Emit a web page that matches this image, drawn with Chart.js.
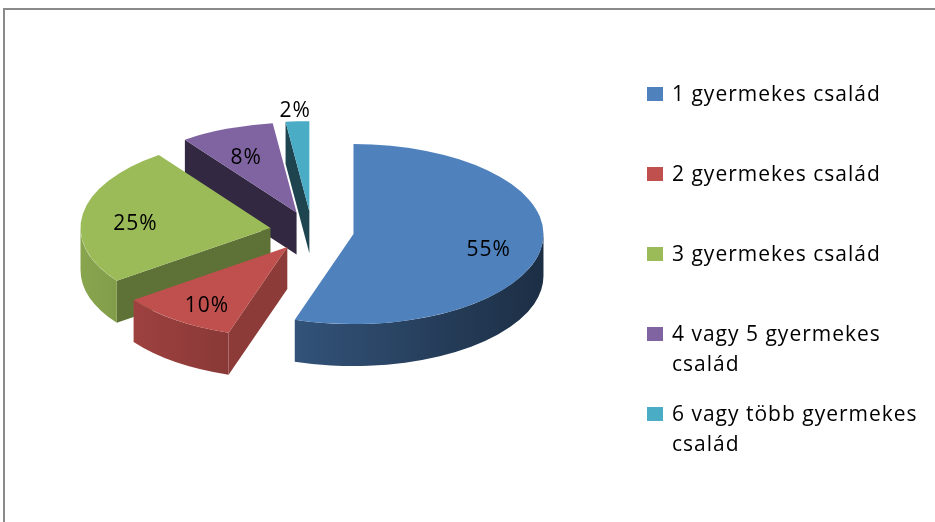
<!DOCTYPE html>
<html>
<head>
<meta charset="utf-8">
<script src="https://cdn.jsdelivr.net/npm/chart.js@4.4.0/dist/chart.umd.min.js"></script>
<style>
  html, body { margin: 0; padding: 0; background: #fff; overflow: hidden; }
  #keret {
    position: absolute; left: 3px; top: 8px; width: 1000px; height: 600px;
    border-top: 2px solid #8a8a8a; border-left: 2px solid #8a8a8a;
  }
  #grafikon { position: absolute; left: 0; top: 0; }
</style>
</head>
<body>
<div id="keret"></div>
<canvas id="grafikon" width="935" height="522"></canvas>
<script>
const kategoriak = [
  "1 gyermekes család",
  "2 gyermekes család",
  "3 gyermekes család",
  "4 vagy 5 gyermekes család",
  "6 vagy több gyermekes család",
];
const ertekek = [55, 10, 25, 8, 2]; // százalék
const szinek = ["#4F81BD", "#C0504D", "#9BBB59", "#8064A2", "#4BACC6"];

const BETU = "'Open Sans', sans-serif";
const LAPULAS = 90 / 190; // ellipszis magasság / szélesség
const MELYSEG = 42;
const KIEMELES = 42;

function arnyal(hex, f) {
  const n = parseInt(hex.slice(1), 16);
  const r = Math.round(((n >> 16) & 255) * f);
  const g = Math.round(((n >> 8) & 255) * f);
  const b = Math.round((n & 255) * f);
  return `rgb(${r},${g},${b})`;
}

// 3D-s, szétszedett torta: oldalak + tetők, hátulról előre
const pite3d = {
  id: "pite3d",
  beforeDatasetsDraw(chart) {
    const ctx = chart.ctx;
    const ivek = chart.getDatasetMeta(0).data;
    const kozep = (iv) => (iv.startAngle + iv.endAngle) / 2;
    const sorrend = ivek.map((_, i) => i)
      .sort((a, b) => Math.sin(kozep(ivek[a])) - Math.sin(kozep(ivek[b])));

    const cx = ivek[0].x, R0 = ivek[0].outerRadius;
    const balSzel = cx - R0 - KIEMELES, jobbSzel = cx + R0 + KIEMELES;

    sorrend.forEach((i) => {
      const iv = ivek[i];
      const p = iv.getProps(["x", "y", "startAngle", "endAngle", "outerRadius"]);
      const m = (p.startAngle + p.endAngle) / 2;
      const vx = p.x + Math.cos(m) * KIEMELES;
      const vy = p.y + Math.sin(m) * KIEMELES * LAPULAS;
      const R = p.outerRadius;
      const szin = szinek[i];

      const vagas = (a, normal) => {
        const px = vx + Math.cos(a) * R, py = vy + Math.sin(a) * R * LAPULAS;
        ctx.beginPath();
        ctx.moveTo(vx, vy);
        ctx.lineTo(px, py);
        ctx.lineTo(px, py + MELYSEG);
        ctx.lineTo(vx, vy + MELYSEG);
        ctx.closePath();
        ctx.fillStyle = arnyal(szin, 0.4 + 0.35 * Math.max(0, Math.cos(normal)));
        ctx.fill();
      };
      if (Math.cos(p.startAngle) < 0) vagas(p.startAngle, p.startAngle - Math.PI / 2);
      if (Math.cos(p.endAngle) > 0) vagas(p.endAngle, p.endAngle + Math.PI / 2);

      // külső ív oldala (csak az elülső fél látszik)
      const a0 = Math.max(p.startAngle, 0), a1 = Math.min(p.endAngle, Math.PI);
      if (a1 > a0) {
        ctx.beginPath();
        ctx.ellipse(vx, vy, R, R * LAPULAS, 0, a0, a1);
        ctx.ellipse(vx, vy + MELYSEG, R, R * LAPULAS, 0, a1, a0, true);
        ctx.closePath();
        const gr = ctx.createLinearGradient(balSzel, 0, jobbSzel, 0);
        gr.addColorStop(0, arnyal(szin, 0.88));
        gr.addColorStop(1, arnyal(szin, 0.36));
        ctx.fillStyle = gr;
        ctx.fill();
      }

      // tető
      ctx.save();
      ctx.translate(vx, vy);
      ctx.scale(1, LAPULAS);
      ctx.translate(-p.x, -p.y);
      iv.draw(ctx);
      ctx.restore();
    });

    // adatfeliratok
    ctx.save();
    ctx.font = `21px ${BETU}`;
    ctx.letterSpacing = "1px";
    ctx.fillStyle = "#000";
    ctx.textAlign = "center";
    ctx.textBaseline = "middle";
    ivek.forEach((iv, i) => {
      const m = (iv.startAngle + iv.endAngle) / 2;
      const vx = iv.x + Math.cos(m) * KIEMELES;
      const vy = iv.y + Math.sin(m) * KIEMELES * LAPULAS;
      const f = ertekek[i] < 5 ? 1.18 : 0.72;
      const tx = vx + Math.cos(m) * iv.outerRadius * f;
      const ty = vy + Math.sin(m) * iv.outerRadius * LAPULAS * f + 6;
      ctx.fillText(ertekek[i] + "%", tx, ty);
    });
    ctx.restore();
    return false;
  },
};

// jobb oldali jelmagyarázat, tördelt sorokkal
const jelmagyarazat = {
  id: "jelmagyarazat",
  afterDraw(chart) {
    const ctx = chart.ctx;
    ctx.save();
    ctx.font = `21px ${BETU}`;
    ctx.letterSpacing = "1px";
    ctx.textBaseline = "middle";
    ctx.textAlign = "left";
    const maxSzel = 262;
    kategoriak.forEach((nev, i) => {
      const y = 94 + i * 80;
      ctx.fillStyle = szinek[i];
      ctx.fillRect(647, y - 7, 16, 14);
      const szavak = nev.split(" ");
      const sorok = [];
      let sor = "";
      szavak.forEach((sz) => {
        const proba = sor ? sor + " " + sz : sz;
        if (ctx.measureText(proba).width > maxSzel && sor) {
          sorok.push(sor);
          sor = sz;
        } else {
          sor = proba;
        }
      });
      sorok.push(sor);
      ctx.fillStyle = "#000";
      sorok.forEach((s, j) => ctx.fillText(s, 672, y + 1 + j * 30));
    });
    ctx.restore();
  },
};

Chart.defaults.font.family = BETU;

new Chart(document.getElementById("grafikon"), {
  type: "pie",
  data: {
    labels: kategoriak,
    datasets: [{
      data: ertekek,
      backgroundColor: szinek,
      borderWidth: 0,
      radius: 190,
      clip: false,
    }],
  },
  options: {
    responsive: false,
    animation: false,
    radius: 190,
    layout: { padding: { left: 0, top: 0, right: 311, bottom: 60 } },
    plugins: {
      legend: { display: false },
      tooltip: { enabled: false },
    },
  },
  plugins: [pite3d, jelmagyarazat],
});
</script>
</body>
</html>
